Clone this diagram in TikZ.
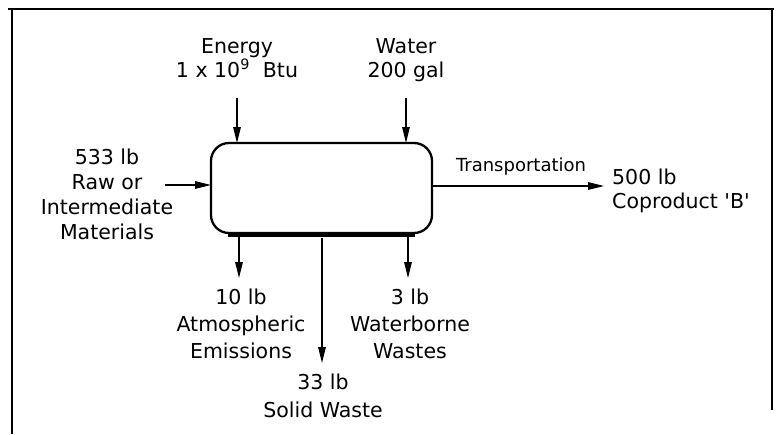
\documentclass[tikz,border=0pt]{standalone}
\usepackage{fontspec}
\setmainfont{DejaVu Sans}
\usetikzlibrary{arrows.meta,calc}
\begin{document}
\begin{tikzpicture}[x=1pt,y=-1pt,
  lbl/.style={font=\fontsize{20.5}{25}\selectfont, align=center, inner sep=0pt, anchor=base},
  lblwide/.style={lbl, font=\fontsize{20.5}{27}\selectfont},
  flow/.style={line width=1.5pt, -{Triangle[length=16pt,width=7.5pt]}},
  frameline/.style={line width=1.6pt},
  procbox/.style={draw, line width=2.3pt, rounded corners=18pt, minimum width=221pt, minimum height=90pt, inner sep=0pt}]
\useasboundingbox (0,0) rectangle (776,434);
% frame
\draw[line width=2.4pt] (8,9) coordinate (ftl) -- (774,9) coordinate (ftr);
\draw[frameline] (12,9) coordinate (fl1) -- (12,434) coordinate (fl2);
\draw[frameline] (772,9) coordinate (fr1) -- (772,410) coordinate (fr2);
% process box
\node[procbox] (proc) at (321.5,188) {};
\draw[line width=3.6pt] ([xshift=18pt,yshift=-0.9pt]proc.south west) -- ([xshift=-18pt,yshift=-0.9pt]proc.south east);
% labels (anchor = baseline of last line)
\node[lbl, font=\fontsize{20.5}{24}\selectfont] (energy) at (237,77) {Energy\\1 x 10\textsuperscript{9}\ \ Btu};
\node[lbl, font=\fontsize{20.5}{24}\selectfont] (water) at (406,77) {Water\\200 gal};
\node[lbl] (raw) at (107,239) {533 lb\\Raw or\\Intermediate\\Materials};
\node[lbl, font=\fontsize{18}{20}\selectfont] (trans) at (521,171) {Transportation};
\node[lbl, anchor=base west, align=left, font=\fontsize{20.5}{24}\selectfont] (coprod) at (612,208) {500 lb\\Coproduct \textquotesingle B\textquotesingle};
\node[lblwide] (atmo) at (241,358) {10 lb\\Atmospheric\\Emissions};
\node[lblwide] (wb) at (410,358) {3 lb\\Waterborne\\Wastes};
\node[lbl, font=\fontsize{20.5}{28}\selectfont] (solid) at (323,417) {33 lb\\Solid Waste};
% arrow anchor points
\coordinate (eTop) at (237,98);
\coordinate (wTop) at (406,98);
\coordinate (eIn) at (237,143);
\coordinate (wIn) at (406,143);
\coordinate (rawStart) at (165,185);
\coordinate (rawIn) at (211,185);
\coordinate (tOut) at (432,186);
\coordinate (tEnd) at (604,186);
\coordinate (aOut) at (239,234);
\coordinate (aEnd) at (239,278);
\coordinate (sOut) at (322,238);
\coordinate (sEnd) at (322,363);
\coordinate (bOut) at (408,234);
\coordinate (bEnd) at (408,278);
% arrows
\draw[flow] (eTop) -- (eIn);
\draw[flow] (wTop) -- (wIn);
\draw[flow] (rawStart) -- (rawIn);
\draw[flow] (tOut) -- (tEnd);
\draw[flow] (aOut) -- (aEnd);
\draw[flow] (sOut) -- (sEnd);
\draw[flow] (bOut) -- (bEnd);
\end{tikzpicture}
\end{document}
